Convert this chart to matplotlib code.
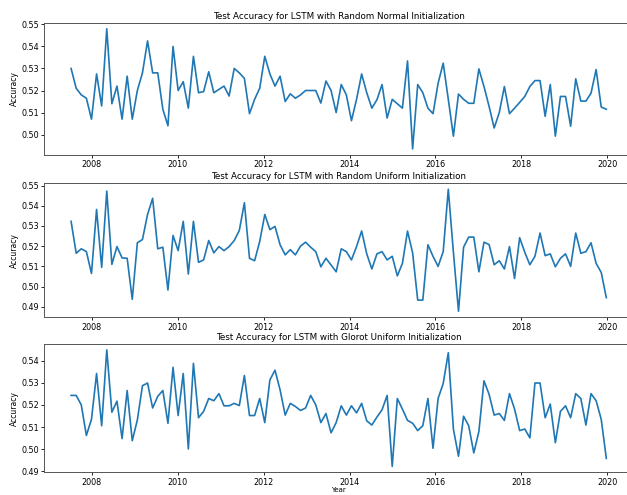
import numpy as np
import pandas as pd
import matplotlib
matplotlib.use('Agg')
import matplotlib.pyplot as plt
import matplotlib.dates as mdates

# даты тестовых точек (равномерно, ~каждые 6 недель)
dates = pd.date_range('2007-07-08', '2019-12-25', periods=106)

acc_normal = [
    0.530, 0.521, 0.518, 0.5165, 0.507, 0.5275, 0.513, 0.548, 0.514, 0.522,
    0.507, 0.5265, 0.507, 0.520, 0.528, 0.5425, 0.528, 0.528, 0.5115, 0.504,
    0.540, 0.520, 0.524, 0.512, 0.5355, 0.519, 0.5195, 0.5285, 0.519, 0.5205,
    0.522, 0.5175, 0.530, 0.528, 0.5255, 0.5095, 0.516, 0.521, 0.5355, 0.5275,
    0.522, 0.5265, 0.515, 0.5185, 0.5165, 0.518, 0.520,
    0.520, 0.520, 0.5143, 0.5243, 0.520, 0.510, 0.5227, 0.518, 0.5063, 0.516,
    0.5275, 0.519, 0.512, 0.5158, 0.5227, 0.5075, 0.516, 0.514, 0.512, 0.5334,
    0.4935, 0.5227, 0.519, 0.512, 0.5095, 0.5233, 0.5324, 0.516, 0.4993, 0.5184,
    0.516, 0.5142, 0.5142, 0.5298, 0.5218, 0.5128, 0.503, 0.510, 0.5218, 0.5095,
    0.512, 0.5146, 0.5173, 0.5218, 0.5245, 0.5245, 0.5083, 0.5227, 0.4993, 0.5173,
    0.5173, 0.5038, 0.5253, 0.5152, 0.5152, 0.5188, 0.5295, 0.5125, 0.5115,
]

acc_uniform = [
    0.5323, 0.5165, 0.5187, 0.5173, 0.5065, 0.5382, 0.5095, 0.5473, 0.511, 0.5198,
    0.5142, 0.514, 0.4937, 0.5217, 0.5233, 0.5357, 0.5437, 0.5187, 0.5195, 0.4983,
    0.5253, 0.5178, 0.5323, 0.5062, 0.5323, 0.512, 0.5132, 0.5228, 0.5167, 0.5198,
    0.5178, 0.5198, 0.5228, 0.5278, 0.5415, 0.514, 0.5128, 0.5223, 0.5357, 0.5282,
    0.5298, 0.5207, 0.5157, 0.5183, 0.5157, 0.520, 0.522,
    0.5195, 0.5173, 0.5098, 0.514, 0.5107, 0.5073, 0.5187, 0.5173, 0.5132, 0.5198,
    0.5275, 0.5162, 0.5087, 0.5162, 0.5173, 0.5132, 0.515, 0.5053, 0.5115, 0.5275,
    0.5167, 0.4933, 0.4933, 0.5207, 0.515, 0.51, 0.5173, 0.5482, 0.517, 0.4878,
    0.5195, 0.5245, 0.5245, 0.5073, 0.522, 0.5208, 0.5108, 0.5128, 0.5087, 0.5198,
    0.504, 0.5242, 0.517, 0.5108, 0.515, 0.5265, 0.5153, 0.5162, 0.5098, 0.514,
    0.5162, 0.51, 0.5265, 0.5165, 0.5173, 0.5217, 0.5115, 0.507, 0.4945,
]

acc_glorot = [
    0.5243, 0.5243, 0.520, 0.5062, 0.5135, 0.5342, 0.5106, 0.5449, 0.5167, 0.5217,
    0.5048, 0.5265, 0.5038, 0.5132, 0.5287, 0.5299, 0.5186, 0.5239, 0.5265, 0.5117,
    0.537, 0.5152, 0.5342, 0.5001, 0.5388, 0.5142, 0.5171, 0.5229, 0.5219, 0.5251,
    0.5196, 0.5196, 0.5207, 0.5197, 0.5333, 0.5152, 0.5152, 0.5229, 0.512, 0.5313,
    0.5357, 0.5268, 0.5154, 0.5207, 0.5193, 0.5175, 0.5186,
    0.5243, 0.520, 0.512, 0.5161, 0.5074, 0.512, 0.5196, 0.5154, 0.5196, 0.5164,
    0.5207, 0.5128, 0.5109, 0.5145, 0.5178, 0.5243, 0.4922, 0.5229, 0.5181, 0.513,
    0.5117, 0.5084, 0.5106, 0.5229, 0.5004, 0.5229, 0.5297, 0.5436, 0.5091, 0.4968,
    0.5149, 0.5106, 0.4983, 0.508, 0.5309, 0.5248, 0.5154, 0.5161, 0.513, 0.5251,
    0.5181, 0.5084, 0.5091, 0.5051, 0.5299, 0.5299, 0.5142, 0.5204, 0.5029, 0.5171,
    0.5196, 0.5142, 0.5251, 0.5229, 0.5109, 0.5251, 0.5219, 0.5135, 0.4958,
]

titles = ['Test Accuracy for LSTM with Random Normal Initialization',
          'Test Accuracy for LSTM with Random Uniform Initialization',
          'Test Accuracy for LSTM with Glorot Uniform Initialization']

fig = plt.figure(figsize=(6.27, 4.95), dpi=100)

# скриншот обрезан справа, поэтому оси чуть выходят за край
boxes = [[0.0707, 0.687, 0.939, 0.267],
         [0.0707, 0.359, 0.939, 0.271],
         [0.0707, 0.046, 0.939, 0.259]]

for box, series, title in zip(boxes, [acc_normal, acc_uniform, acc_glorot], titles):
    ax = fig.add_axes(box)
    ax.plot(dates, series, color='#1f77b4', linewidth=1.2)
    ax.set_title(title, fontsize=6.3, pad=3)
    ax.set_ylabel('Accuracy', fontsize=5.5, labelpad=1.5)
    ax.xaxis.set_major_locator(mdates.YearLocator(2))
    ax.xaxis.set_major_formatter(mdates.DateFormatter('%Y'))
    ax.yaxis.set_major_formatter(matplotlib.ticker.FormatStrFormatter('%.2f'))
    ax.tick_params(labelsize=5.8, length=2.5, width=0.6, pad=1.5)
    for s in ax.spines.values():
        s.set_linewidth(0.7)
        s.set_color('#555555')

ax.set_xlabel('Year', fontsize=5, labelpad=0.5)

fig.savefig('out.png', dpi=100)
